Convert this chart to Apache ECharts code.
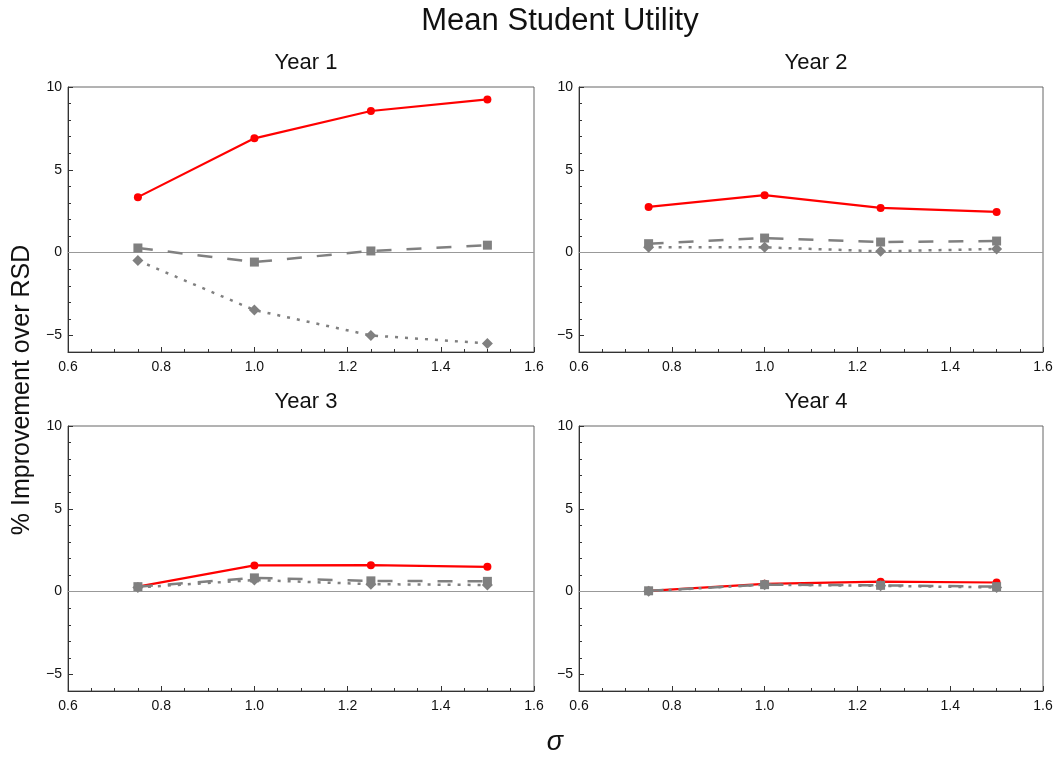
<!DOCTYPE html>
<html>
<head>
<meta charset="utf-8">
<script src="https://cdn.jsdelivr.net/npm/echarts@6/dist/echarts.min.js"></script>
<style>html,body{margin:0;padding:0;background:#fff;}#c{width:1059px;height:757px;}</style>
</head>
<body>
<div id="c"></div>
<script>
const sigma = [0.75, 1.0, 1.25, 1.5];
const panelTitles = ['Year 1', 'Year 2', 'Year 3', 'Year 4'];
const year1Main = [3.35, 6.9, 8.55, 9.25];
const year1Dashed = [0.28, -0.57, 0.1, 0.45];
const year1Dotted = [-0.48, -3.47, -5.0, -5.48];
const year2Main = [2.76, 3.47, 2.7, 2.46];
const year2Dashed = [0.54, 0.88, 0.64, 0.7];
const year2Dotted = [0.32, 0.32, 0.08, 0.22];
const year3Main = [0.3, 1.58, 1.6, 1.5];
const year3Dashed = [0.3, 0.83, 0.65, 0.62];
const year3Dotted = [0.25, 0.7, 0.45, 0.4];
const year4Main = [0.05, 0.47, 0.6, 0.55];
const year4Dashed = [0.05, 0.42, 0.38, 0.3];
const year4Dotted = [0.03, 0.42, 0.35, 0.25];
const yMajorTicks = [-5, 0, 5, 10];

const mains = [year1Main, year2Main, year3Main, year4Main];
const dashes = [year1Dashed, year2Dashed, year3Dashed, year4Dashed];
const dots = [year1Dotted, year2Dotted, year3Dotted, year4Dotted];

const font = 'Liberation Sans, Arial, sans-serif';
const grids = [
  {left: 68, top: 87, width: 466, height: 265},
  {left: 579, top: 87, width: 464, height: 265},
  {left: 68, top: 426, width: 466, height: 265},
  {left: 579, top: 426, width: 464, height: 265}
];
const zip = arr => sigma.map((x, i) => [x, arr[i]]);

const xAxes = [], yAxes = [], series = [], titles = [];
grids.forEach((g, i) => {
  g.show = true; g.borderColor = '#666'; g.borderWidth = 1; g.containLabel = false;
  xAxes.push({
    type: 'value', gridIndex: i, min: 0.6, max: 1.6, interval: 0.2,
    axisLine: {show: true, onZero: false, lineStyle: {color: '#333', width: 1}},
    axisTick: {show: true, inside: true, length: 5, lineStyle: {color: '#333'}},
    minorTick: {show: true, splitNumber: 4, length: 3, lineStyle: {color: '#333'}},
    splitLine: {show: false},
    axisLabel: {color: '#111', fontSize: 14, fontFamily: font, margin: 8,
      formatter: v => v.toFixed(1)}
  });
  yAxes.push({
    type: 'value', gridIndex: i, min: -6, max: 10, position: 'left',
    axisLine: {show: true, onZero: false, lineStyle: {color: '#333', width: 1}},
    axisTick: {show: true, inside: true, length: 5, customValues: yMajorTicks, lineStyle: {color: '#333'}},
    splitLine: {show: false},
    axisLabel: {color: '#111', fontSize: 14, fontFamily: font, margin: 6, customValues: yMajorTicks,
      formatter: v => String(v).replace('-', '\u2212')}
  });
  titles.push({
    text: panelTitles[i], left: g.left + g.width / 2, top: g.top - 40, textAlign: 'center',
    textStyle: {fontSize: 22, fontWeight: 'normal', color: '#111', fontFamily: font}
  });
});
grids.forEach((g, i) => {
  yAxes.push({
    type: 'value', gridIndex: i, min: -6, max: 10, interval: 1, position: 'left',
    axisLine: {show: false},
    axisTick: {show: true, inside: true, length: 3, lineStyle: {color: '#333'}},
    axisLabel: {show: false}, splitLine: {show: false}
  });
});

grids.forEach((g, i) => {
  series.push({
    name: 'Main', type: 'line', xAxisIndex: i, yAxisIndex: i, data: zip(mains[i]),
    symbol: 'circle', symbolSize: 8, z: 3,
    lineStyle: {color: '#ff0000', width: 2.2}, itemStyle: {color: '#ff0000'},
    markLine: {silent: true, symbol: 'none', label: {show: false},
      lineStyle: {color: '#999', width: 1, type: 'solid'}, data: [{yAxis: 0}], z: 1}
  });
  series.push({
    name: 'Dashed', type: 'line', xAxisIndex: i, yAxisIndex: i, data: zip(dashes[i]),
    symbol: 'rect', symbolSize: 9, z: 4,
    lineStyle: {color: '#808080', width: 2.5, type: [15, 15]}, itemStyle: {color: '#808080'}
  });
  series.push({
    name: 'Dotted', type: 'line', xAxisIndex: i, yAxisIndex: i, data: zip(dots[i]),
    symbol: 'diamond', symbolSize: 11, z: 4,
    lineStyle: {color: '#808080', width: 2.5, type: [3, 7]}, itemStyle: {color: '#808080'}
  });
});

titles.unshift({
  text: 'Mean Student Utility', left: 555, top: 1, textAlign: 'center',
  textStyle: {fontSize: 31, fontWeight: 'normal', color: '#111', fontFamily: font}
});

const chart = echarts.init(document.getElementById('c'), null, {renderer: 'canvas'});
chart.setOption({
  animation: false,
  backgroundColor: '#fff',
  title: titles,
  grid: grids,
  xAxis: xAxes,
  yAxis: yAxes,
  series: series,
  graphic: [
    {type: 'text', x: 22, y: 390, rotation: Math.PI / 2,
      style: {text: '% Improvement over RSD', fontSize: 25, fontFamily: font, fill: '#111',
        align: 'center', verticalAlign: 'middle'}},
    {type: 'text', x: 555, y: 742, style: {text: 'σ', fontSize: 27, fontStyle: 'italic',
      fontFamily: font, fill: '#111', align: 'center', verticalAlign: 'middle'}}
  ]
});
</script>
</body>
</html>
